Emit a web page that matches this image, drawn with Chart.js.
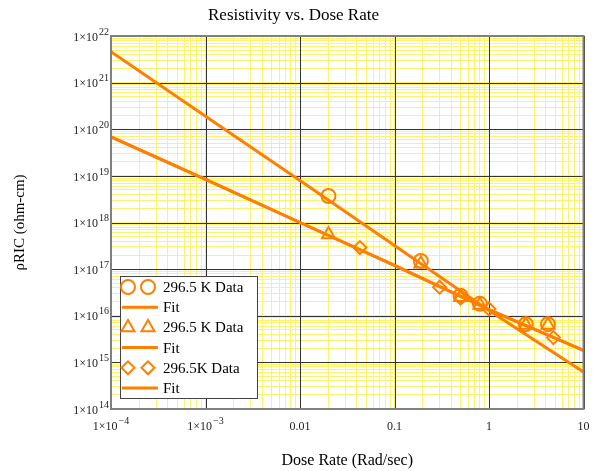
<!DOCTYPE html>
<html><head><meta charset="utf-8">
<script src="https://cdn.jsdelivr.net/npm/chart.js@4/dist/chart.umd.min.js"></script>
<style>html,body{margin:0;padding:0;background:#fff}</style>
</head><body>
<canvas id="c" width="593" height="471"></canvas>
<script>
// ---- data ----
const circleX = [0.02, 0.19, 0.5, 0.8, 2.45, 4.2];
const circleY = [3.7e18, 1.5e17, 2.7e16, 1.8e16, 6.6e15, 6.6e15];
const triangleX = [0.02, 0.19, 0.5, 0.8, 2.45, 4.2];
const triangleY = [5.5e17, 1.3e17, 2.5e16, 1.7e16, 6.3e15, 6.3e15];
const diamondX = [0.043, 0.3, 0.5, 1.0, 4.8];
const diamondY = [2.9e17, 4.1e16, 2.4e16, 1.4e16, 3.4e15];
const fitX = [1e-4, 1e-3, 0.01, 0.1, 1, 10];
const fit1Y = [4.6e21, 1.9e20, 8e18, 3.2e17, 1.3e16, 6.2e14];
const fit2Y = [6.9e19, 8.4e18, 1.0e18, 1.2e17, 1.35e16, 1.8e15];
const fit3Y = [6.9e19, 8.4e18, 1.0e18, 1.2e17, 1.35e16, 1.8e15];
const seriesLabels = ['296.5 K Data', 'Fit', '296.5 K Data', 'Fit', '296.5K Data', 'Fit'];
const xTickValues = [1e-4, 1e-3, 0.01, 0.1, 1, 10];
const xTickLabels = ['1×10^−4', '1×10^−3', '0.01', '0.1', '1', '10'];
const yTickValues = [1e14, 1e15, 1e16, 1e17, 1e18, 1e19, 1e20, 1e21, 1e22];
const yTickLabels = ['1×10^14', '1×10^15', '1×10^16', '1×10^17', '1×10^18', '1×10^19', '1×10^20', '1×10^21', '1×10^22'];
const minorSteps = [2, 3, 4, 5, 6, 7, 8, 9];

const ORANGE = '#ff8000';
const SERIF = "'Liberation Serif','Times New Roman',serif";
const pts = (xs, ys) => xs.map((x, i) => ({x, y: ys[i]}));

function buildLogTicks(values) {
  const t = [];
  values.forEach((d, i) => {
    t.push({value: d});
    if (i < values.length - 1) minorSteps.forEach(m => t.push({value: d * m}));
  });
  return t;
}

function drawPow(ctx, text, x, y, align) {
  const parts = text.split('^');
  const base = parts[0], exp = parts[1];
  ctx.font = '12px ' + SERIF;
  const bw = ctx.measureText(base).width;
  ctx.font = '10px ' + SERIF;
  const ew = exp ? ctx.measureText(exp).width + 1 : 0;
  const total = bw + ew;
  const x0 = align === 'right' ? x - total : x - total / 2;
  ctx.textAlign = 'left';
  ctx.textBaseline = 'middle';
  ctx.fillStyle = '#222';
  ctx.font = '12px ' + SERIF;
  ctx.fillText(base, x0, y);
  if (exp) {
    ctx.font = '10px ' + SERIF;
    ctx.fillText(exp, x0 + bw + 1, y - 5.5);
  }
}

const decor = {
  id: 'decor',
  beforeDatasetsDraw(chart) {
    const {ctx, chartArea: a, scales} = chart;
    ctx.save();
    ctx.strokeStyle = '#333';
    ctx.lineWidth = 1;
    ctx.beginPath();
    xTickValues.forEach(v => {
      const px = Math.round(scales.x.getPixelForValue(v)) + 0.5;
      ctx.moveTo(px, a.top); ctx.lineTo(px, a.bottom);
    });
    yTickValues.forEach(v => {
      const py = Math.round(scales.y.getPixelForValue(v)) + 0.5;
      ctx.moveTo(a.left, py); ctx.lineTo(a.right, py);
    });
    ctx.stroke();
    ctx.restore();
  },
  afterDraw(chart) {
    const {ctx, chartArea: a, scales} = chart;
    ctx.save();
    // frame
    ctx.strokeStyle = '#808080';
    ctx.lineWidth = 2;
    ctx.strokeRect(a.left, a.top, a.right - a.left, a.bottom - a.top);
    // tick labels
    yTickValues.forEach((v, i) => drawPow(ctx, yTickLabels[i], a.left - 2, scales.y.getPixelForValue(v) + 1.5, 'right'));
    xTickValues.forEach((v, i) => drawPow(ctx, xTickLabels[i], scales.x.getPixelForValue(v), a.bottom + 18, 'center'));
    // legend
    const lx = a.left + 9, ly = a.bottom - 133, lw = 137, lh = 122;
    ctx.fillStyle = '#fff';
    ctx.fillRect(lx, ly, lw, lh);
    ctx.strokeStyle = '#444';
    ctx.lineWidth = 1;
    ctx.strokeRect(lx + 0.5, ly + 0.5, lw, lh);
    chart.data.datasets.forEach((ds, i) => {
      const cy = ly + 11 + i * 20.2;
      if (ds.showLine) {
        ctx.strokeStyle = ds.borderColor;
        ctx.lineWidth = 3;
        ctx.beginPath();
        ctx.moveTo(lx + 2, cy);
        ctx.lineTo(lx + 38, cy);
        ctx.stroke();
      } else {
        [lx + 8, lx + 28].forEach(px => {
          ctx.strokeStyle = ORANGE;
          ctx.fillStyle = 'rgba(0,0,0,0)';
          ctx.lineWidth = 2;
          Chart.helpers.drawPoint(ctx, {pointStyle: ds.pointStyle, radius: ds.pointRadius, borderWidth: 2, rotation: 0}, px, cy);
        });
      }
      ctx.fillStyle = '#000';
      ctx.font = '15px ' + SERIF;
      ctx.textAlign = 'left';
      ctx.textBaseline = 'middle';
      ctx.fillText(ds.label, lx + 43, cy + 1);
    });
    ctx.restore();
  }
};

const dataStyle = (style, r) => ({
  showLine: false, pointStyle: style, pointRadius: r, pointBorderWidth: 2,
  borderColor: ORANGE, backgroundColor: 'rgba(0,0,0,0)', pointBackgroundColor: 'rgba(0,0,0,0)'
});
const fitStyle = () => ({
  showLine: true, pointRadius: 0, borderColor: ORANGE, borderWidth: 3, backgroundColor: ORANGE
});

new Chart(document.getElementById('c'), {
  type: 'scatter',
  data: {
    datasets: [
      Object.assign({label: seriesLabels[0], data: pts(circleX, circleY)}, dataStyle('circle', 7)),
      Object.assign({label: seriesLabels[1], data: pts(fitX, fit1Y)}, fitStyle()),
      Object.assign({label: seriesLabels[2], data: pts(triangleX, triangleY)}, dataStyle('triangle', 7.5)),
      Object.assign({label: seriesLabels[3], data: pts(fitX, fit2Y)}, fitStyle()),
      Object.assign({label: seriesLabels[4], data: pts(diamondX, diamondY)}, dataStyle('rectRot', 6.5)),
      Object.assign({label: seriesLabels[5], data: pts(fitX, fit3Y)}, fitStyle())
    ]
  },
  options: {
    responsive: false,
    animation: false,
    layout: {padding: {left: 0, right: 6, top: 0, bottom: 0}},
    plugins: {
      legend: {display: false},
      tooltip: {enabled: false},
      title: {
        display: true, text: 'Resistivity vs. Dose Rate', color: '#000',
        font: {family: SERIF, size: 17, weight: 'normal', lineHeight: 1.2},
        padding: {top: 5, bottom: 10.6}
      }
    },
    scales: {
      x: {
        type: 'logarithmic', min: 1e-4, max: 10,
        afterBuildTicks: s => { s.ticks = buildLogTicks(xTickValues); },
        afterFit: s => { s.height = 62; },
        ticks: {display: false, autoSkip: false},
        grid: {drawTicks: false, tickLength: 0, lineWidth: 1, color: 'rgb(255,242,110)'},
        border: {display: false},
        title: {display: true, text: 'Dose Rate (Rad/sec)', color: '#000',
          font: {family: SERIF, size: 16, lineHeight: 1.2}, padding: {top: 0, bottom: 1}}
      },
      y: {
        type: 'logarithmic', min: 1e14, max: 1e22,
        afterBuildTicks: s => { s.ticks = buildLogTicks(yTickValues); },
        afterFit: s => { s.width = 111; },
        ticks: {display: false, autoSkip: false},
        grid: {drawTicks: false, tickLength: 0, lineWidth: 1, color: 'rgb(255,242,110)'},
        border: {display: false},
        title: {display: true, text: 'ρRIC (ohm-cm)', color: '#000',
          font: {family: SERIF, size: 15, lineHeight: 1.2}, padding: {top: 11, bottom: 0}}
      }
    }
  },
  plugins: [decor]
});
</script>
</body></html>
